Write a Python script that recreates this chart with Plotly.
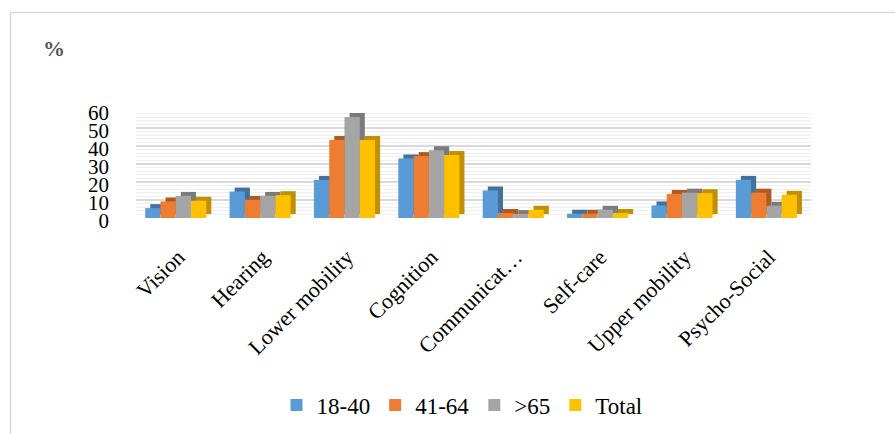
import plotly.graph_objects as go

categories = ["Vision", "Hearing", "Lower mobility", "Cognition",
              "Communicat…", "Self-care", "Upper mobility", "Psycho-Social"]
series_names = ["18-40", "41-64", ">65", "Total"]
s18_40 = [5.5, 14.7, 21.2, 33.1, 15.3, 2.4, 7.0, 21.2]
s41_64 = [9.2, 10.1, 43.3, 34.4, 2.8, 2.4, 13.4, 14.1]
s65 = [12.3, 12.3, 56.1, 37.7, 2.2, 4.6, 14.1, 6.8]
total = [9.6, 12.7, 43.3, 35.0, 4.6, 2.8, 13.8, 12.9]
y_ticks = [0, 10, 20, 30, 40, 50, 60]

series = [s18_40, s41_64, s65, total]
colors = ["#5B9BD5", "#ED7D31", "#A5A5A5", "#FFC000"]
dark = ["#41719C", "#AE5A21", "#7B7B7B", "#BF9000"]

SERIF = "Times New Roman, Liberation Serif, serif"

W, H = 895, 434
L, R = 136, 811      # plot area px
T, B = 110, 218

bw = 0.181
start = -0.391
dx = 0.06
dy = 2.2

fig = go.Figure()
xs = list(range(len(categories)))
for i, (name, vals) in enumerate(zip(series_names, series)):
    off = start + i * bw
    fig.add_trace(go.Bar(x=xs, y=vals, base=dy, width=bw, offset=off + dx,
                         marker=dict(color=dark[i], line=dict(width=0)),
                         showlegend=False, hoverinfo="skip"))
    fig.add_trace(go.Bar(x=xs, y=vals, width=bw, offset=off, name=name,
                         marker=dict(color=colors[i], line=dict(width=0))))

pw = R - L
ph = B - T


def px_x(p):
    return (p - L) / pw


def px_y(p):
    return (B - p) / ph


fig.update_layout(
    width=W, height=H,
    margin=dict(l=L, r=W - R, t=T, b=H - B, autoexpand=False),
    paper_bgcolor="white", plot_bgcolor="white",
    barmode="overlay",
    font=dict(family=SERIF, color="#000000"),
    xaxis=dict(range=[-0.5, 7.5], tickmode="array", tickvals=xs,
               ticktext=categories, tickangle=-45, showgrid=False,
               zeroline=False, showline=False, ticks="",
               tickfont=dict(size=22, family=SERIF, color="#000"),
               ticklabelstandoff=21),
    yaxis=dict(range=[0, 60], tickvals=y_ticks, showline=False, zeroline=False,
               gridcolor="#D9D9D9", gridwidth=1.5,
               minor=dict(dtick=2, showgrid=True, gridcolor="#EFEFEF", gridwidth=1),
               tickfont=dict(size=21, family=SERIF, color="#000"),
               ticklabelstandoff=26, ticklabelshift=3, ticks=""),
    legend=dict(orientation="h", xref="container", yref="container",
                x=462 / W, xanchor="center", y=1 - 405 / H, yanchor="middle",
                font=dict(size=23, family=SERIF, color="#000"),
                itemwidth=30, traceorder="normal"),
    annotations=[dict(text="<b>%</b>", xref="paper", yref="paper",
                      x=px_x(54), y=px_y(49), xanchor="center", yanchor="middle",
                      showarrow=False,
                      font=dict(size=22, color="#595959", family=SERIF))],
    shapes=[dict(type="rect", xref="paper", yref="paper",
                 x0=px_x(10.5), x1=px_x(1000), y0=px_y(12.5), y1=px_y(600),
                 line=dict(color="#D9D9D9", width=1.5), layer="below")],
    showlegend=True,
)

fig.write_html("out.html")
